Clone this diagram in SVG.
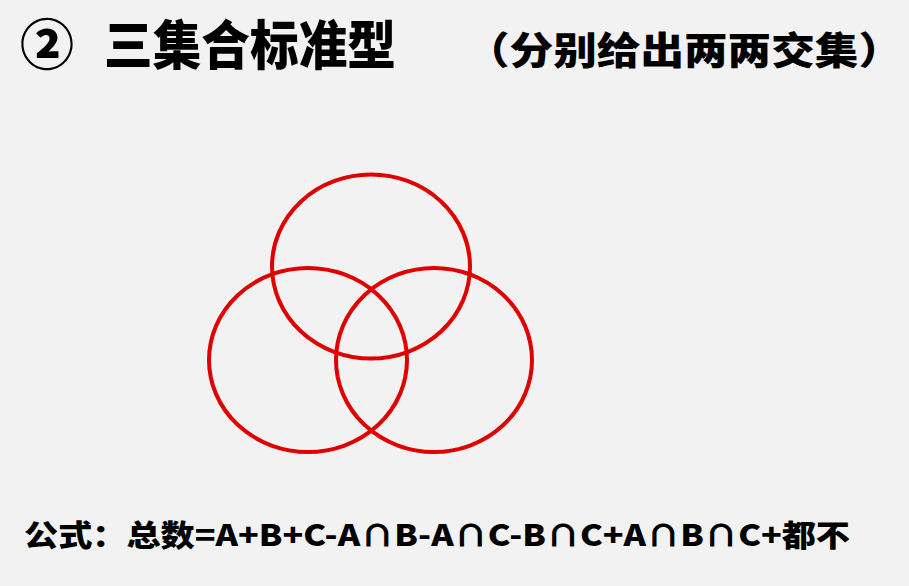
<svg xmlns="http://www.w3.org/2000/svg" width="909" height="586" viewBox="0 0 909 586">
<style>
.t{font-family:"Noto Sans CJK SC","Noto Sans",sans-serif;font-weight:900;fill:#000}
.c{fill:none;stroke:#e00000;stroke-width:4}
</style>
<rect width="909" height="586" fill="#f2f2f2"/>
<g id="title">
<text class="t" x="20" y="65" font-size="54">②</text>
<text class="t" x="104" y="65" font-size="53" textLength="292" lengthAdjust="spacingAndGlyphs">三集合标准型</text>
<text class="t" x="466" y="64" font-size="38" textLength="436" lengthAdjust="spacingAndGlyphs">（分别给出两两交集）</text>
</g>
<g id="setA"><ellipse class="c" cx="371" cy="266.5" rx="99" ry="92"/></g>
<g id="setB"><ellipse class="c" cx="308" cy="360" rx="99" ry="92"/></g>
<g id="setC"><ellipse class="c" cx="434" cy="360" rx="98" ry="92"/></g>
<g id="formula">
<text class="t" x="24" y="546" font-size="30" textLength="826" lengthAdjust="spacingAndGlyphs">公式：总数=A+B+C-A∩B-A∩C-B∩C+A∩B∩C+都不</text>
</g>
</svg>
